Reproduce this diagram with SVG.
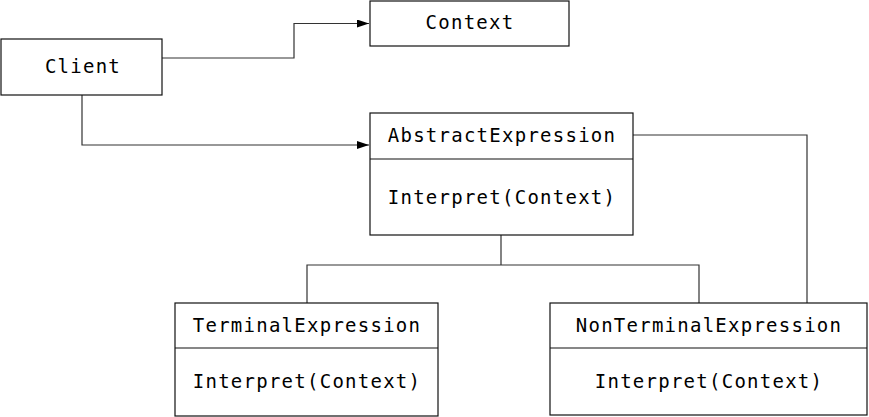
<svg xmlns="http://www.w3.org/2000/svg" width="869" height="417" viewBox="0 0 869 417">
<style>
.box{fill:#fff;stroke:#111;stroke-width:1.2}
.ln{fill:none;stroke:#333;stroke-width:1.2}
text{font-family:"DejaVu Sans Mono","Liberation Mono",monospace;font-size:19px;letter-spacing:1.25px;fill:#000;text-anchor:middle}
</style>
<defs>
<marker id="arr" markerWidth="12" markerHeight="8" refX="12" refY="4" orient="auto" markerUnits="userSpaceOnUse">
<path d="M0,0 L12,4 L0,8 Z" fill="#000"/>
</marker>
</defs>
<g id="connectors">
<path class="ln" d="M162,58 H294 V23.5 H369" marker-end="url(#arr)"/>
<path class="ln" d="M82,95 V145 H369" marker-end="url(#arr)"/>
<path class="ln" d="M501,235 V265 M307,303 V265 H699 V303"/>
<path class="ln" d="M633,135 H807 V303"/>
</g>
<g id="client">
<rect class="box" x="1" y="39" width="161" height="56"/>
<text x="83" y="73">Client</text>
</g>
<g id="context">
<rect class="box" x="370" y="1" width="199" height="45"/>
<text x="470" y="29">Context</text>
</g>
<g id="abstractExpression">
<rect class="box" x="370" y="113" width="263" height="122"/>
<line class="box" x1="370" y1="159" x2="633" y2="159"/>
<text x="502" y="142">AbstractExpression</text>
<text x="502" y="204">Interpret(Context)</text>
</g>
<g id="terminalExpression">
<rect class="box" x="175" y="303" width="263" height="113"/>
<line class="box" x1="175" y1="348" x2="438" y2="348"/>
<text x="307" y="332">TerminalExpression</text>
<text x="307" y="388">Interpret(Context)</text>
</g>
<g id="nonTerminalExpression">
<rect class="box" x="550" y="303" width="317" height="112"/>
<line class="box" x1="550" y1="348" x2="867" y2="348"/>
<text x="709" y="332">NonTerminalExpression</text>
<text x="709" y="388">Interpret(Context)</text>
</g>
</svg>
